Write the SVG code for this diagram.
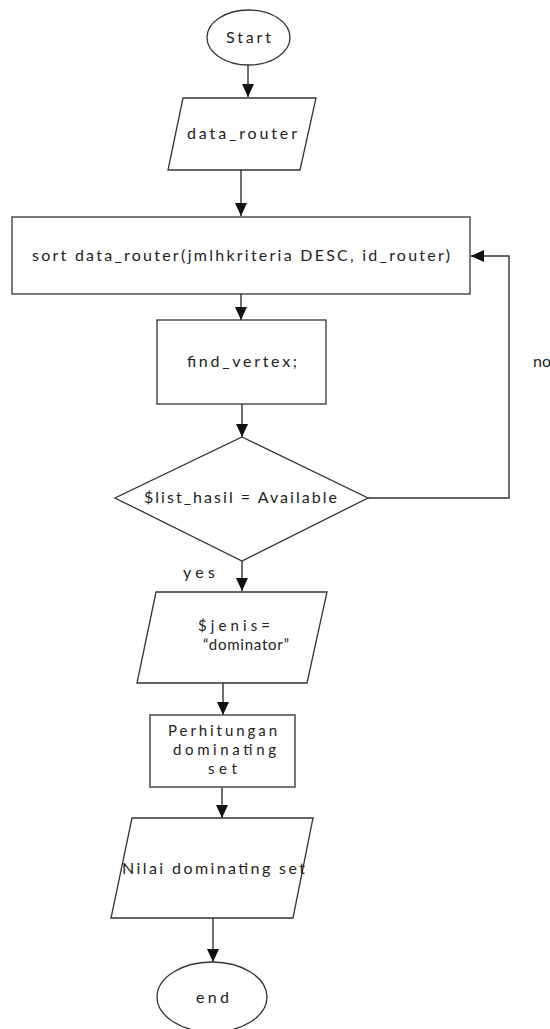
<svg xmlns="http://www.w3.org/2000/svg" width="550" height="1029" viewBox="0 0 550 1029">
  <style>
    .shape { fill: #ffffff; stroke: #333333; stroke-width: 1.3; }
    .box2 { fill: #ffffff; stroke: #555555; stroke-width: 1.6; }
    .conn { fill: none; stroke: #333333; stroke-width: 1.4; }
    .lbl { font-family: Lato, "Open Sans", "Liberation Sans", sans-serif; font-size: 16px; fill: #222222; }
    .sm { font-size: 15px; }
    .mid { text-anchor: middle; }
  </style>
  <defs>
    <marker id="arrow" markerUnits="userSpaceOnUse" markerWidth="14" markerHeight="12" refX="13" refY="6" orient="auto">
      <path d="M0,0 L13,6 L0,12 Z" fill="#111111"/>
    </marker>
  </defs>

  <rect width="550" height="1029" fill="#ffffff"/>

  <!-- connectors -->
  <g id="connectors">
    <path class="conn" d="M248,65 V97" marker-end="url(#arrow)"/>
    <path class="conn" d="M241,170 V216" marker-end="url(#arrow)"/>
    <path class="conn" d="M241,294 V320" marker-end="url(#arrow)"/>
    <path class="conn" d="M242,404 V437" marker-end="url(#arrow)"/>
    <path class="conn" d="M368,498 H509 V256 H471" marker-end="url(#arrow)"/>
    <path class="conn" d="M242,561 V591" marker-end="url(#arrow)"/>
    <path class="conn" d="M223,683 V715" marker-end="url(#arrow)"/>
    <path class="conn" d="M222,787 V818" marker-end="url(#arrow)"/>
    <path class="conn" d="M213,918 V962" marker-end="url(#arrow)"/>
    <text class="lbl" x="533" y="367">no</text>
    <text class="lbl" x="183" y="578" textLength="32" lengthAdjust="spacing">yes</text>
  </g>

  <!-- start terminator -->
  <g id="start">
    <ellipse class="shape" cx="248.5" cy="37.5" rx="41.5" ry="27.5"/>
    <text class="lbl mid" x="248.5" y="43" textLength="45" lengthAdjust="spacing">Start</text>
  </g>

  <!-- input: data_router -->
  <g id="data_router">
    <polygon class="shape" points="183,98 316,98 300,170 168,170"/>
    <text class="lbl mid" x="242" y="139" textLength="110" lengthAdjust="spacing">data_router</text>
  </g>

  <!-- sort step -->
  <g id="sort">
    <rect class="shape" x="12" y="217" width="458" height="77"/>
    <text class="lbl mid" x="241" y="261" textLength="418" lengthAdjust="spacing">sort data_router(jmlhkriteria DESC, id_router)</text>
  </g>

  <!-- find_vertex step -->
  <g id="find_vertex">
    <rect class="shape" x="157" y="320" width="169" height="84"/>
    <text class="lbl mid" x="242" y="367" textLength="110" lengthAdjust="spacing">find_vertex;</text>
  </g>

  <!-- decision -->
  <g id="decision">
    <polygon class="shape" points="242,437 368,498 242,561 115,498"/>
    <text class="lbl mid" x="240.5" y="503" textLength="193" lengthAdjust="spacing">$list_hasil = Available</text>
  </g>

  <!-- assignment -->
  <g id="jenis">
    <polygon class="shape" points="156,592 327,592 307,683 137,683"/>
    <text class="lbl sm mid" x="234" y="631" textLength="72" lengthAdjust="spacing">$jenis=</text>
    <text class="lbl sm mid" x="246" y="650" textLength="86" lengthAdjust="spacing">“dominator”</text>
  </g>

  <!-- computation -->
  <g id="perhitungan">
    <rect class="box2" x="150" y="715" width="145" height="72"/>
    <text class="lbl sm mid" x="222.5" y="736" textLength="109" lengthAdjust="spacing">Perhitungan</text>
    <text class="lbl sm mid" x="224.5" y="755" textLength="103" lengthAdjust="spacing">dominating</text>
    <text class="lbl sm mid" x="222.5" y="774" textLength="29" lengthAdjust="spacing">set</text>
  </g>

  <!-- output -->
  <g id="nilai">
    <polygon class="shape" points="132,818 313,818 293,918 111,918"/>
    <text class="lbl" x="122" y="874" textLength="183" lengthAdjust="spacing">Nilai dominating set</text>
  </g>

  <!-- end terminator -->
  <g id="end">
    <ellipse class="shape" cx="212" cy="997" rx="55" ry="35"/>
    <text class="lbl mid" x="212.5" y="1003" textLength="33" lengthAdjust="spacing">end</text>
  </g>
</svg>
